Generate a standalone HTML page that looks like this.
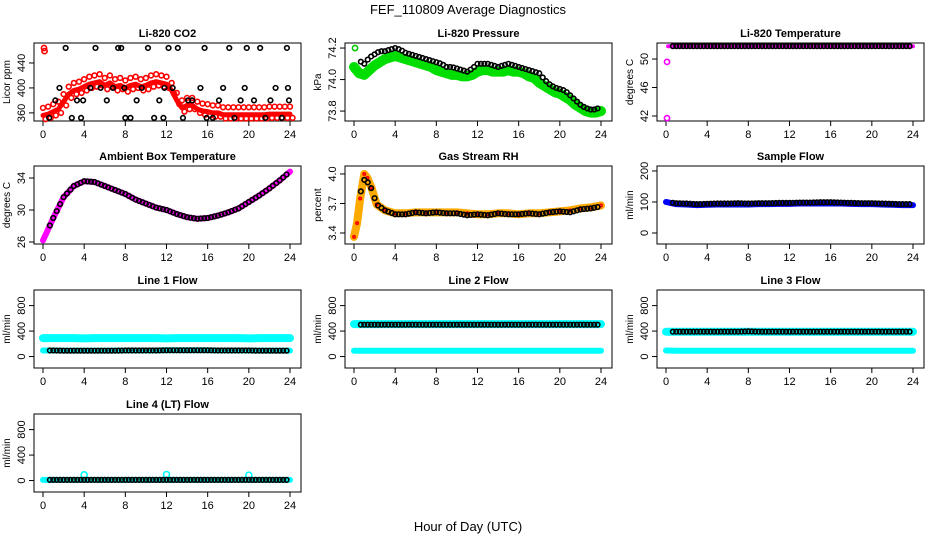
<!DOCTYPE html>
<html><head><meta charset="utf-8"><style>
body{margin:0;background:#fff}
svg{display:block;font-family:"Liberation Sans",Arial,sans-serif}
</style></head><body>
<svg id="c" width="936" height="540">
<text x="468" y="14" font-size="13" text-anchor="middle">FEF_110809  Average Diagnostics</text>
<text x="468" y="531" font-size="13" text-anchor="middle">Hour of Day (UTC)</text>
</svg>
<script>
// ---- data ----
const xTicks=[0,4,8,12,16,20,24];
const hoursHalf=[0,0.5,1,1.5,2,2.5,3,3.5,4,4.5,5,5.5,6,6.5,7,7.5,8,8.5,9,9.5,10,10.5,11,11.5,12,12.5,13,13.5,14,14.5,15,15.5,16,16.5,17,17.5,18,18.5,19,19.5,20,20.5,21,21.5,22,22.5,23,23.5,24];
const hoursFull=[0,1,2,3,4,5,6,7,8,9,10,11,12,13,14,15,16,17,18,19,20,21,22,23,24];
const co2Red=[356,358,362,366,378,390,396,398,402,406,408,410,404,408,402,404,400,404,406,402,404,408,410,408,406,396,380,368,372,372,366,363,362,360,360,357,357,357,357,357,357,357,357,357,358,358,358,358,358];
const co2BlackX=[0.6,1.2,1.6,2.2,2.8,3.3,3.7,3.9,4.6,5.1,5.6,6.2,6.8,7.3,7.6,7.9,8.0,8.5,9.1,9.6,10.2,10.8,11.3,11.7,11.8,12.2,12.6,13.1,13.6,14.1,14.5,15.3,15.7,15.9,16.5,17.1,17.5,18.1,18.6,19.2,19.6,19.8,20.5,21.1,21.6,22.1,22.6,23.2,23.7,23.8,23.9];
const co2BlackY=[352,380,400,464,352,380,352,380,400,464,400,380,400,464,464,400,352,352,380,400,464,352,380,352,400,464,400,464,352,380,380,400,464,352,352,380,400,464,352,380,400,464,380,464,352,380,400,352,464,400,380];
const presGreen=[74.08,74.04,74.03,74.06,74.09,74.11,74.13,74.14,74.15,74.14,74.13,74.12,74.11,74.10,74.09,74.08,74.06,74.05,74.04,74.03,74.03,74.02,74.02,74.03,74.05,74.06,74.06,74.05,74.05,74.05,74.06,74.05,74.05,74.04,74.02,74.01,73.98,73.96,73.94,73.92,73.91,73.89,73.87,73.84,73.82,73.80,73.79,73.79,73.80];
const presBlack=[74.20,74.12,74.10,74.14,74.16,74.18,74.18,74.19,74.20,74.19,74.17,74.16,74.15,74.14,74.13,74.12,74.11,74.10,74.08,74.08,74.07,74.06,74.05,74.07,74.10,74.10,74.10,74.09,74.08,74.09,74.10,74.09,74.08,74.07,74.06,74.05,74.04,74.00,73.97,73.95,73.94,73.93,73.90,73.87,73.84,73.82,73.81,73.81,73.83];
const tempMag=[51.8,51.8,51.8,51.8,51.8,51.8,51.8,51.8,51.8,51.8,51.8,51.8,51.8,51.8,51.8,51.8,51.8,51.8,51.8,51.8,51.8,51.8,51.8,51.8,51.8];
const tempOutX=[0.1,0.1];
const tempOutY=[49.6,41.7];
const ambMag=[26.2,29,31.6,33,33.6,33.5,33.0,32.5,32.0,31.3,30.8,30.3,30.0,29.5,29.1,28.9,29.0,29.3,29.7,30.2,31.0,31.8,32.7,33.7,34.8];
const rhHours=[0,0.3,0.6,1,1.3,1.7,2.2,3,4,5,6,7,8,9,10,11,12,13,14,15,16,17,18,19,20,21,22,23,24];
const rhOrange=[3.36,3.5,3.75,4.0,3.96,3.86,3.69,3.63,3.60,3.60,3.61,3.61,3.61,3.61,3.61,3.60,3.59,3.59,3.60,3.60,3.59,3.60,3.60,3.61,3.62,3.63,3.65,3.66,3.68];
const rhBlack=[null,null,3.8,3.94,3.92,3.85,3.69,3.63,3.59,3.59,3.61,3.60,3.61,3.60,3.60,3.58,3.59,3.58,3.60,3.59,3.59,3.60,3.59,3.61,3.62,3.61,3.64,3.65,3.67];
const sampleBlue=[100,93,92,90,91,92,92,92,92,93,93,94,94,95,95,95,95,95,94,93,93,92,91,90,90];
const sampleBlack=[100,96,95,93,94,95,95,96,95,96,96,97,97,98,98,99,99,98,97,96,96,95,94,93,93];
const l1Upper=[290,290,290,290,285,290,290,290,290,290,290,290,285,290,290,290,290,290,290,290,285,290,290,290,290];
const l1Lower=[95,95,92,92,92,92,92,92,95,95,95,95,98,98,98,98,98,95,95,95,95,92,92,92,92];
const l1Black=[95,95,92,92,92,92,92,92,95,95,95,95,98,98,98,98,98,95,95,95,95,92,92,92,92];
const l2Upper=[510,510,510,510,510,510,510,510,510,510,510,510,510,510,510,510,510,510,510,510,510,510,510,510,510];
const l2Lower=[90,90,90,90,90,90,90,90,90,90,90,90,90,90,90,90,90,90,90,90,90,90,90,90,90];
const l2Black=[500,500,500,500,500,500,500,500,500,500,500,500,500,500,500,500,500,500,500,500,500,500,500,500,500];
const l3Upper=[390,390,390,390,390,390,390,390,390,390,390,390,390,390,390,390,390,390,390,390,390,390,390,390,390];
const l3Lower=[95,90,90,90,90,90,90,90,90,90,90,90,90,90,90,90,90,90,90,90,90,90,90,90,90];
const l3Black=[390,390,390,390,390,390,390,390,395,390,390,390,390,390,390,390,390,390,390,390,390,390,390,390,390];
const l4Cyan=[10,10,10,10,10,10,10,10,10,10,10,10,10,10,10,10,10,10,10,10,10,10,10,10,10];
const l4SpikeX=[4,12,20];
const l4SpikeY=[90,95,85];
const l4Black=[10,10,10,10,10,10,10,10,10,10,10,10,10,10,10,10,10,10,10,10,10,10,10,10,10];

// ---- layout ----
const svg=document.getElementById('c');
const NS='http://www.w3.org/2000/svg';
const colLeft=[34,345,657], rowTop=[43,166,290,414], BW=267, BH=78;
function el(tag,attrs,parent){const e=document.createElementNS(NS,tag);for(const k in attrs)e.setAttribute(k,attrs[k]);(parent||svg).appendChild(e);return e;}
function panel(name,col,row,title,ylab,dom,yt,dec){
  const g=el('g',{});
  
  
  const L=colLeft[col],T=rowTop[row];
  const sx=v=>L+9+v/24*247;
  const sy=v=>T+BH-(v-dom[0])/(dom[1]-dom[0])*BH;
  const t=el('text',{x:L+BW/2,y:T-6,'font-size':11,'font-weight':'bold','text-anchor':'middle'},g);t.textContent=title;
  
  const b=el('rect',{x:L,y:T,width:BW,height:BH,fill:'none',stroke:'#000','stroke-width':1},g);
  
  const xa=el('g',{},g);
  el('line',{x1:sx(0),x2:sx(24),y1:T+BH,y2:T+BH,stroke:'#000'},xa);
  xTicks.forEach(v=>{el('line',{x1:sx(v),x2:sx(v),y1:T+BH,y2:T+BH+5,stroke:'#000'},xa);
    const tx=el('text',{x:sx(v),y:T+BH+17,'font-size':11,'text-anchor':'middle'},xa);tx.textContent=v;});
  const ya=el('g',{},g);
  yt.forEach(v=>{const y=sy(v);el('line',{x1:L-5,x2:L,y1:y,y2:y,stroke:'#000'},ya);
    const tx=el('text',{x:L-9,y:y,'font-size':11,'text-anchor':'middle',transform:`rotate(-90 ${L-9} ${y})`},ya);tx.textContent=v.toFixed(dec||0);});
  const yl=el('text',{x:L-24,y:T+BH/2,'font-size':10,'text-anchor':'middle',transform:`rotate(-90 ${L-24} ${T+BH/2})`},g);yl.textContent=ylab;
  
  return {g,sx,sy};
}
function band(p,name,xs,ys,color,w){
  let d='';xs.forEach((x,i)=>{if(ys[i]==null)return;d+=(d?'L':'M')+p.sx(x)+' '+p.sy(ys[i]);});
  const e=el('path',{d,fill:'none',stroke:color,'stroke-width':w,'stroke-linejoin':'round','stroke-linecap':'round'},p.g);
  
}
function pts(p,name,xs,ys,color,r){
  const g=el('g',{},p.g);
  xs.forEach((x,i)=>{if(ys[i]==null)return;const c=el('circle',{cx:p.sx(x),cy:p.sy(ys[i]),r:r||2.5,fill:'none',stroke:color,'stroke-width':1.6},g);
    });
}
const steps=[];for(let i=0;i<=72;i++)steps.push(i/3);
function interp(xs,ys,x){for(let i=0;i<xs.length-1;i++){if(x>=xs[i]&&x<=xs[i+1]){const a=ys[i],b=ys[i+1];if(a==null||b==null)return null;return a+(b-a)*(x-xs[i])/(xs[i+1]-xs[i]);}}return null;}
function blackSeries(p,name,xs,ys,start){const qx=steps.filter(x=>x>=start&&x<=23.9);pts(p,name,qx,qx.map(x=>interp(xs,ys,x)),'#000',2.3);}

// CO2
let p=panel('co2',0,0,'Li-820 CO2','Licor ppm',[347,472],[360,400,440]);
band(p,'co2-red-band',hoursHalf,co2Red,'#f00',5);
pts(p,'co2-red-points',hoursHalf,co2Red.map(v=>v+12),'#f00',2.4);
pts(p,'co2-red-points-low',hoursHalf.map(h=>h+0.25),co2Red.map(v=>v-6),'#f00',2.4);
pts(p,'co2-red-outliers',[0.1,0.15],[464,459],'#f00',2.6);
pts(p,'co2-black-points',co2BlackX,co2BlackY,'#000',2.3);
// Pressure
p=panel('pressure',1,0,'Li-820 Pressure','kPa',[73.737,74.232],[73.8,74.0,74.2],1);
band(p,'pressure-green-band',hoursHalf,presGreen,'#0d0',10);
pts(p,'pressure-green-outlier',[0.1],[74.2],'#0c0',2.6);
blackSeries(p,'pressure-black-points',hoursHalf,presBlack,0.5);
// Temperature
p=panel('li820-temp',2,0,'Li-820 Temperature','degrees C',[41.3,52.25],[42,46,50]);
band(p,'temp-magenta-band',hoursFull.map(h=>h?h:0.2),tempMag,'#f0f',4);
pts(p,'temp-magenta-outliers',tempOutX,tempOutY,'#f0f',2.6);
blackSeries(p,'temp-black-points',hoursFull,tempMag,0.5);
// Ambient
p=panel('ambient-temp',0,1,'Ambient Box Temperature','degrees C',[25.75,35.5],[26,30,34]);
band(p,'ambient-magenta-band',hoursFull,ambMag,'#f0f',6);
blackSeries(p,'ambient-black-points',hoursFull,ambMag,0.5);
// RH
p=panel('gas-rh',1,1,'Gas Stream RH','percent',[3.288,4.081],[3.4,3.7,4.0],1);
band(p,'rh-orange-band',rhHours,rhOrange,'#fa0',8);
pts(p,'rh-red-dots',rhHours,rhOrange,'#f00',1.2);
blackSeries(p,'rh-black-points',rhHours,rhBlack,0.5);
// Sample flow
p=panel('sample-flow',2,1,'Sample Flow','ml/min',[-35.5,216],[0,100,200]);
band(p,'sample-blue-band',hoursFull,sampleBlue,'#00f',6);
blackSeries(p,'sample-black-points',hoursFull,sampleBlack,0.5);
// Line flows
const ft=[0,400,800], fd=[-180,1045];
p=panel('line1-flow',0,2,'Line 1 Flow','ml/min',fd,ft);
band(p,'line1-cyan-upper',hoursFull,l1Upper,'#0ff',8);
band(p,'line1-cyan-lower',hoursFull,l1Lower,'#0ff',6);
blackSeries(p,'line1-black-points',hoursFull,l1Black,0.5);
p=panel('line2-flow',1,2,'Line 2 Flow','ml/min',fd,ft);
band(p,'line2-cyan-upper',hoursFull,l2Upper,'#0ff',8);
band(p,'line2-cyan-lower',hoursFull,l2Lower,'#0ff',6);
blackSeries(p,'line2-black-points',hoursFull,l2Black,0.5);
p=panel('line3-flow',2,2,'Line 3 Flow','ml/min',fd,ft);
band(p,'line3-cyan-upper',hoursFull,l3Upper,'#0ff',8);
band(p,'line3-cyan-lower',hoursFull,l3Lower,'#0ff',6);
blackSeries(p,'line3-black-points',hoursFull,l3Black,0.5);
p=panel('line4-flow',0,3,'Line 4 (LT) Flow','ml/min',fd,ft);
band(p,'line4-cyan',hoursFull,l4Cyan,'#0ff',6);
pts(p,'line4-cyan-spikes',l4SpikeX,l4SpikeY,'#0ff',3);
blackSeries(p,'line4-black-points',hoursFull,l4Black,0.5);
</script>
</body></html>
